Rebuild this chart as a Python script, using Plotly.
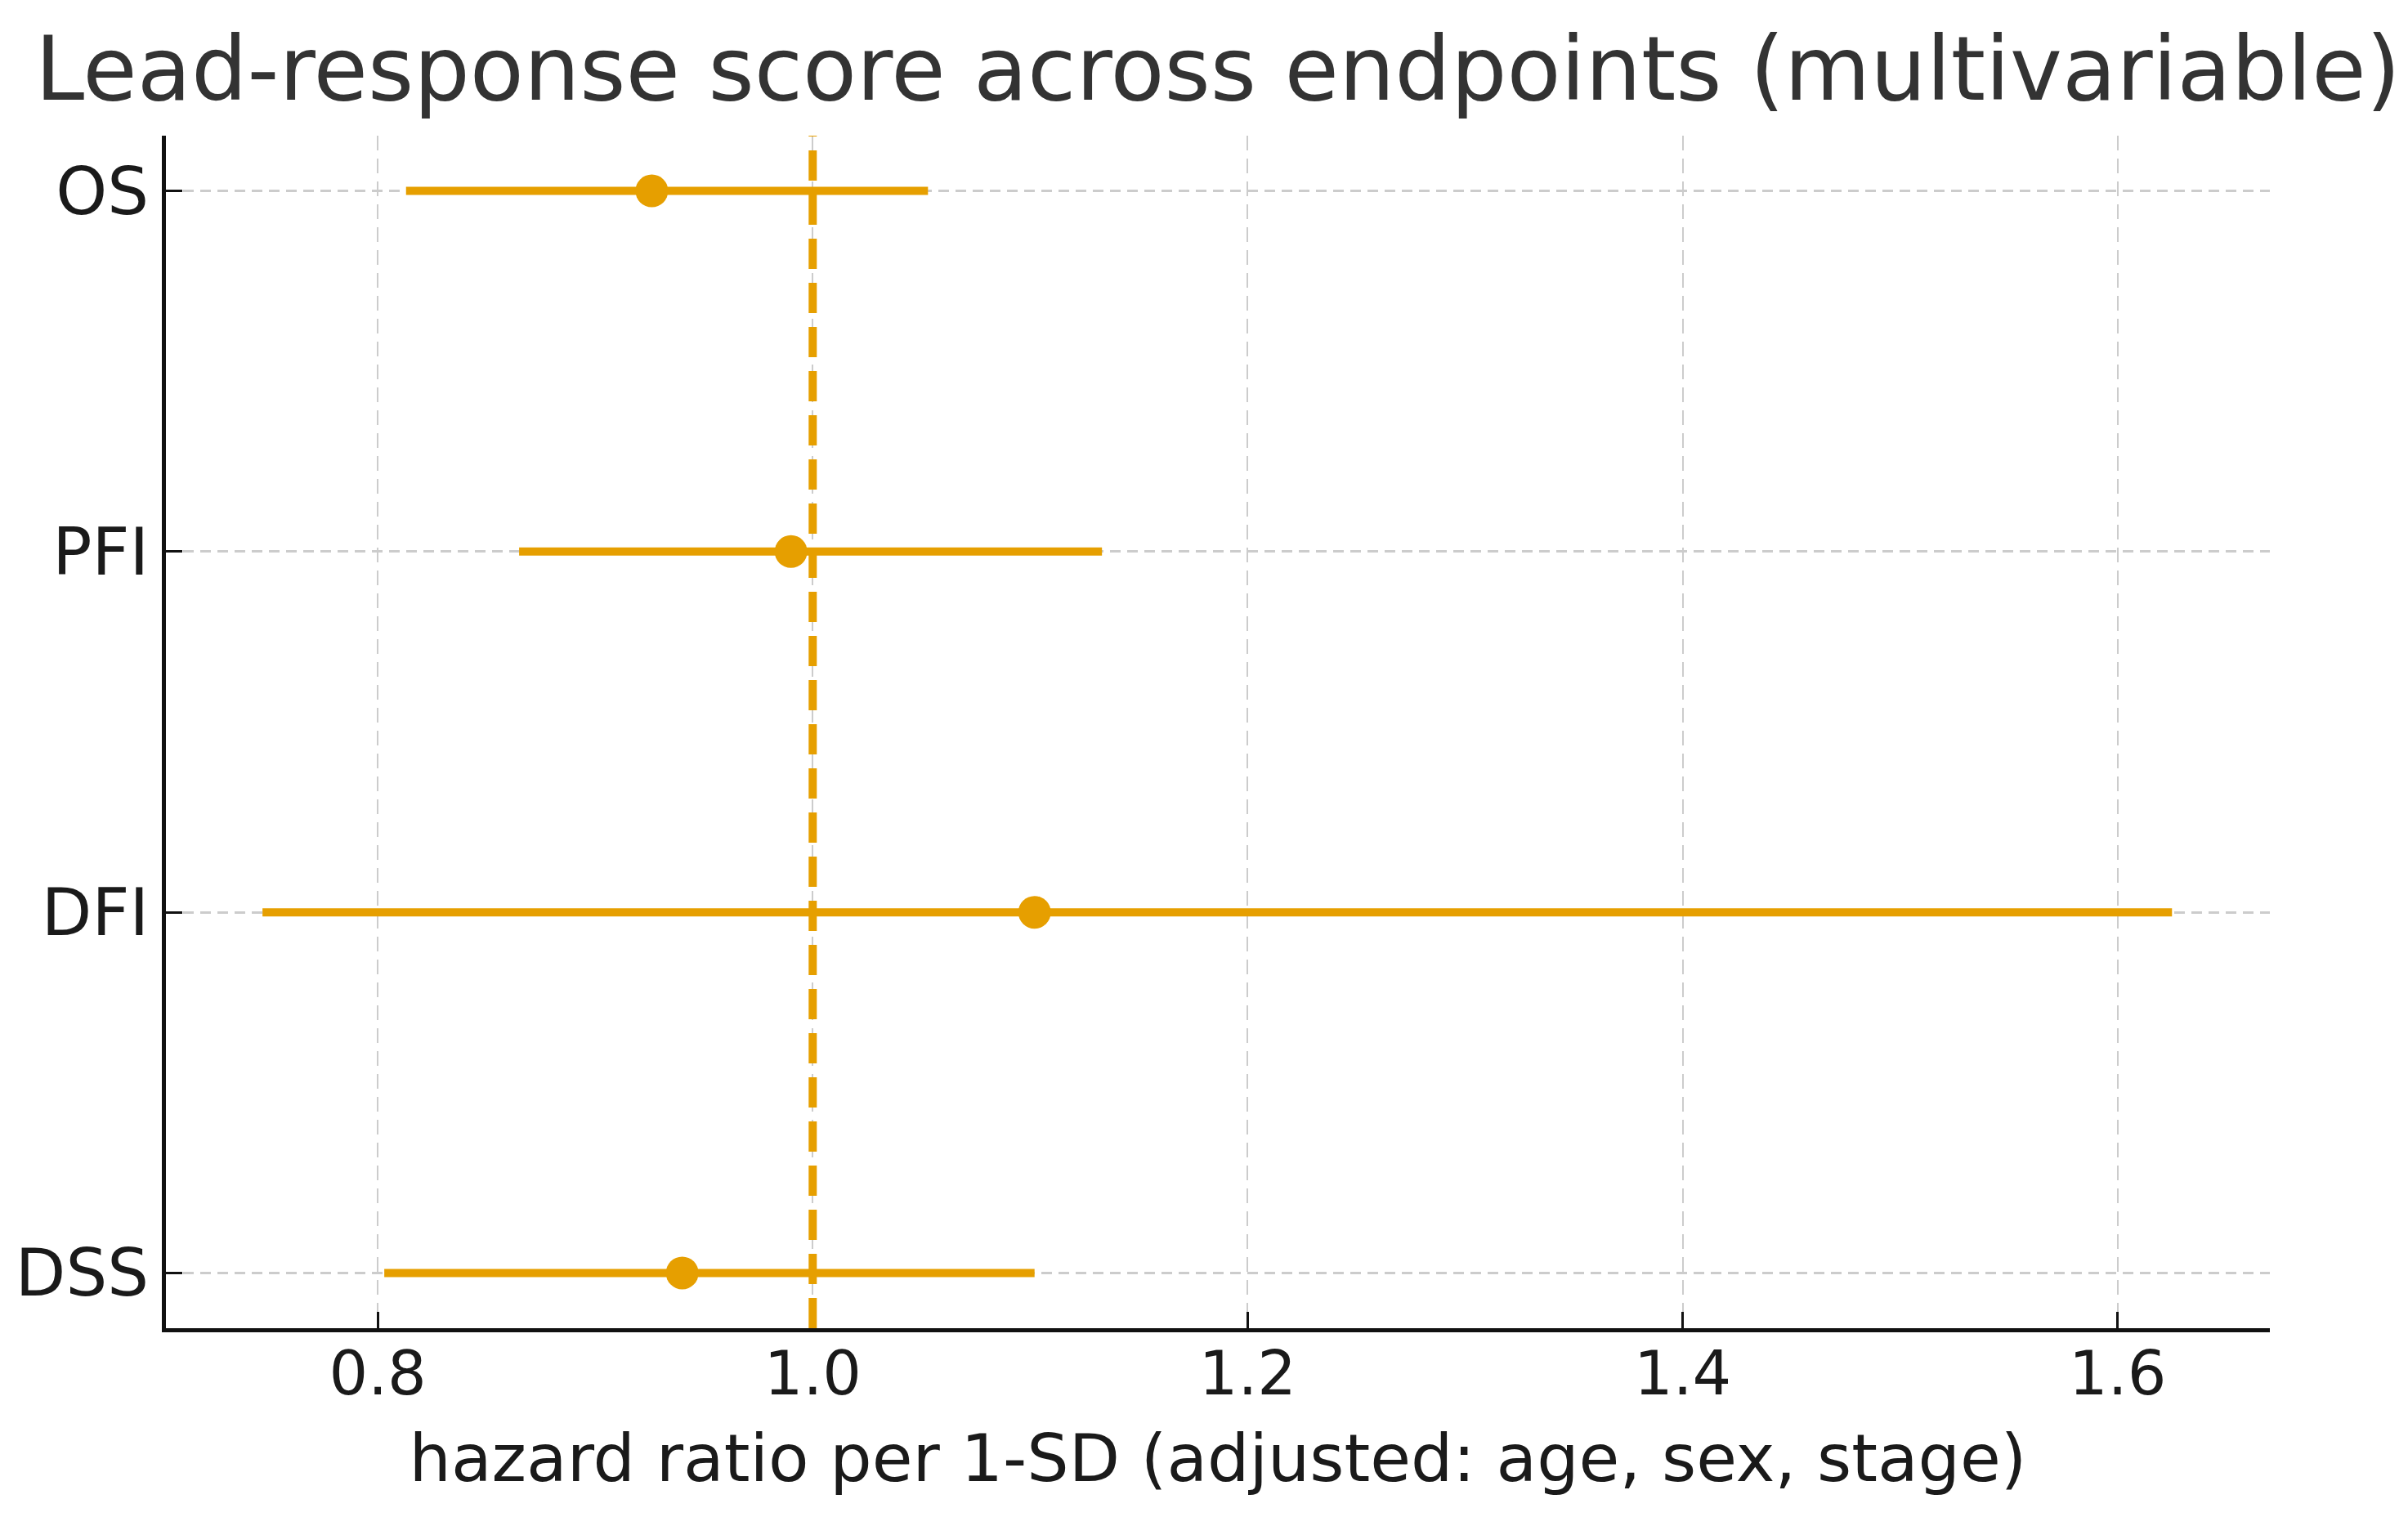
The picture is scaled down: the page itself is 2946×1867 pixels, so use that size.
import plotly.graph_objects as go

endpoints = ["OS", "PFI", "DFI", "DSS"]
hr = [0.926, 0.990, 1.102, 0.940]
ci_low = [0.813, 0.865, 0.747, 0.803]
ci_high = [1.053, 1.133, 1.625, 1.102]
x_ticks = [0.8, 1.0, 1.2, 1.4, 1.6]
x_ticklabels = ["0.8", "1.0", "1.2", "1.4", "1.6"]

ORANGE = "#E69F00"
FONT = "DejaVu Sans"

ypos = list(range(len(endpoints)))
err_plus = [h - m for h, m in zip(ci_high, hr)]
err_minus = [m - l for m, l in zip(hr, ci_low)]

fig = go.Figure()
fig.add_trace(go.Scatter(
    x=hr, y=ypos, mode="markers",
    marker=dict(color=ORANGE, size=40, line=dict(width=0)),
    error_x=dict(type="data", symmetric=False, array=err_plus, arrayminus=err_minus,
                 color=ORANGE, thickness=10, width=0),
    showlegend=False,
))

fig.add_shape(type="line", xref="x", yref="paper", x0=1.0, x1=1.0, y0=0, y1=1,
              line=dict(color=ORANGE, width=10, dash="37px,17px"), layer="above")

fig.update_layout(
    width=2946, height=1867,
    margin=dict(l=195, r=177, t=158, b=250),
    paper_bgcolor="white", plot_bgcolor="white",
    font=dict(family=FONT, color="#1a1a1a"),
    title=dict(text="Lead-response score across endpoints (multivariable)",
               font=dict(family=FONT, size=108, color="#333333"),
               x=0.5, xref="paper", xanchor="center",
               y=1 - 76 / 1867, yref="container", yanchor="middle"),
    xaxis=dict(
        range=[0.7026, 1.670], tickvals=x_ticks, ticktext=x_ticklabels,
        tickfont=dict(size=75, color="#1a1a1a"),
        showgrid=True, gridcolor="#cccccc", gridwidth=2, griddash="18px,10px",
        showline=True, linecolor="#111111", linewidth=5, zeroline=False,
        ticks="inside", ticklen=20, tickwidth=3, tickcolor="#111111",
        ticklabelstandoff=-14, automargin=False,
        title=dict(text="hazard ratio per 1-SD (adjusted: age, sex, stage)",
                   font=dict(size=81, color="#1a1a1a"), standoff=34),
    ),
    yaxis=dict(
        range=[3.153, -0.153], tickvals=ypos, ticktext=endpoints,
        tickfont=dict(size=80, color="#1a1a1a"),
        showgrid=True, gridcolor="#cccccc", gridwidth=3, griddash="13px,8px",
        showline=True, linecolor="#111111", linewidth=5, zeroline=False,
        ticks="inside", ticklen=20, tickwidth=3, tickcolor="#111111",
        ticklabelstandoff=0, automargin=False,
    ),
)

fig.write_html("out.html")
